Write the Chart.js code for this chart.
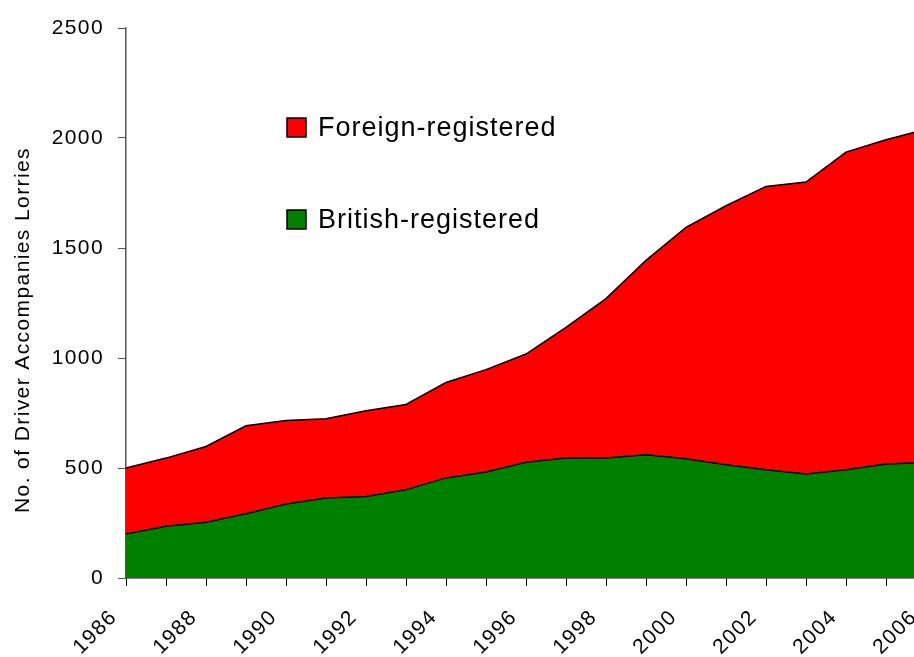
<!DOCTYPE html>
<html>
<head>
<meta charset="utf-8">
<script src="https://cdn.jsdelivr.net/npm/chart.js@4.4.1/dist/chart.umd.min.js"></script>
<style>
  html, body { margin: 0; padding: 0; background: #fff; overflow: hidden; }
  #wrap { width: 914px; height: 657px; overflow: hidden; }
  canvas { display: block; }
</style>
</head>
<body>
<div id="wrap"><canvas id="chart" width="946" height="657"></canvas></div>
<script>
const years = ['1986', '1987', '1988', '1989', '1990', '1991', '1992', '1993', '1994', '1995', '1996',
  '1997', '1998', '1999', '2000', '2001', '2002', '2003', '2004', '2005', '2006'];
const britishRegistered = [200, 235, 253, 292, 336, 364, 371, 401, 455, 482, 526,
  545, 545, 560, 542, 515, 492, 473, 492, 518, 525];
const foreignRegistered = [300, 310, 345, 400, 380, 360, 389, 388, 434, 465, 492,
  594, 725, 884, 1052, 1177, 1288, 1327, 1444, 1474, 1515];
const yTicks = [0, 500, 1000, 1500, 2000, 2500];
const yTitle = 'No. of Driver Accompanies Lorries';

const FONT = 'Arial, "Liberation Sans", sans-serif';

// text in this chart is set a little wide, so open up the tracking
const tracking = {
  id: 'tracking',
  beforeLayout(chart) { chart.ctx.letterSpacing = '1.4px'; },
  beforeDraw(chart) { chart.ctx.letterSpacing = '1.4px'; }
};

// vertical axis title, drawn by hand so it can sit a bit below centre
const sideTitle = {
  id: 'sideTitle',
  afterDraw(chart, args, opts) {
    const ctx = chart.ctx;
    ctx.save();
    ctx.translate(opts.x, opts.y);
    ctx.rotate(-Math.PI / 2);
    ctx.font = `${opts.size}px ${FONT}`;
    ctx.letterSpacing = '1.4px';
    ctx.fillStyle = '#000';
    ctx.textAlign = 'center';
    ctx.textBaseline = 'middle';
    ctx.fillText(opts.text, 0, 0);
    ctx.restore();
  }
};

// legend boxes inside the plot, top series first
const insideLegend = {
  id: 'insideLegend',
  afterDraw(chart, args, opts) {
    const ctx = chart.ctx;
    ctx.save();
    ctx.font = `${opts.size}px ${FONT}`;
    ctx.letterSpacing = '1px';
    ctx.textBaseline = 'middle';
    chart.data.datasets.slice().reverse().forEach((ds, i) => {
      const y = opts.top + i * opts.gap;
      ctx.fillStyle = ds.backgroundColor;
      ctx.fillRect(opts.left, y, opts.box, opts.box);
      ctx.lineWidth = 1.5;
      ctx.strokeStyle = '#000';
      ctx.strokeRect(opts.left, y, opts.box, opts.box);
      ctx.fillStyle = '#000';
      ctx.fillText(ds.label, opts.left + opts.box + 12, y + opts.box / 2 + 1);
    });
    ctx.restore();
  }
};

new Chart(document.getElementById('chart'), {
  type: 'line',
  data: {
    labels: years,
    datasets: [
      {
        label: 'British-registered',
        data: britishRegistered,
        backgroundColor: '#008000',
        borderColor: '#000',
        borderWidth: 1.5,
        pointRadius: 0,
        fill: 'origin'
      },
      {
        label: 'Foreign-registered',
        data: foreignRegistered,
        backgroundColor: '#ff0000',
        borderColor: '#000',
        borderWidth: 1.5,
        pointRadius: 0,
        fill: '-1'
      }
    ]
  },
  options: {
    responsive: false,
    animation: false,
    devicePixelRatio: 1,
    layout: { padding: { top: 28, right: 20, left: 0, bottom: 0 } },
    plugins: {
      legend: { display: false },
      tooltip: { enabled: false },
      sideTitle: { text: yTitle, x: 23, y: 330, size: 21 },
      insideLegend: { left: 287, top: 118, gap: 92, box: 19, size: 27 }
    },
    scales: {
      x: {
        offset: false,
        afterFit: s => {
          s.height = 79;
          s.paddingLeft = 0;
          s.paddingRight = 0;
        },
        grid: { drawOnChartArea: false, tickLength: 8, color: '#000' },
        border: { display: true, color: '#000', width: 1.5 },
        ticks: {
          autoSkip: false,
          minRotation: 45,
          maxRotation: 45,
          padding: 19,
          labelOffset: -12,
          color: '#000',
          font: { family: FONT, size: 21 },
          callback: (v, i) => (i % 2 === 0 ? years[i] : '')
        }
      },
      y: {
        stacked: true,
        min: 0,
        max: 2500,
        afterFit: s => { s.width = 126; },
        afterBuildTicks: s => { s.ticks = yTicks.map(v => ({ value: v })); },
        grid: { drawOnChartArea: false, tickLength: 8, color: '#555' },
        border: { display: true, color: '#555', width: 1.5 },
        ticks: {
          padding: 14,
          color: '#000',
          font: { family: FONT, size: 21 },
          callback: v => String(v)
        }
      }
    }
  },
  plugins: [tracking, sideTitle, insideLegend]
});
</script>
</body>
</html>
